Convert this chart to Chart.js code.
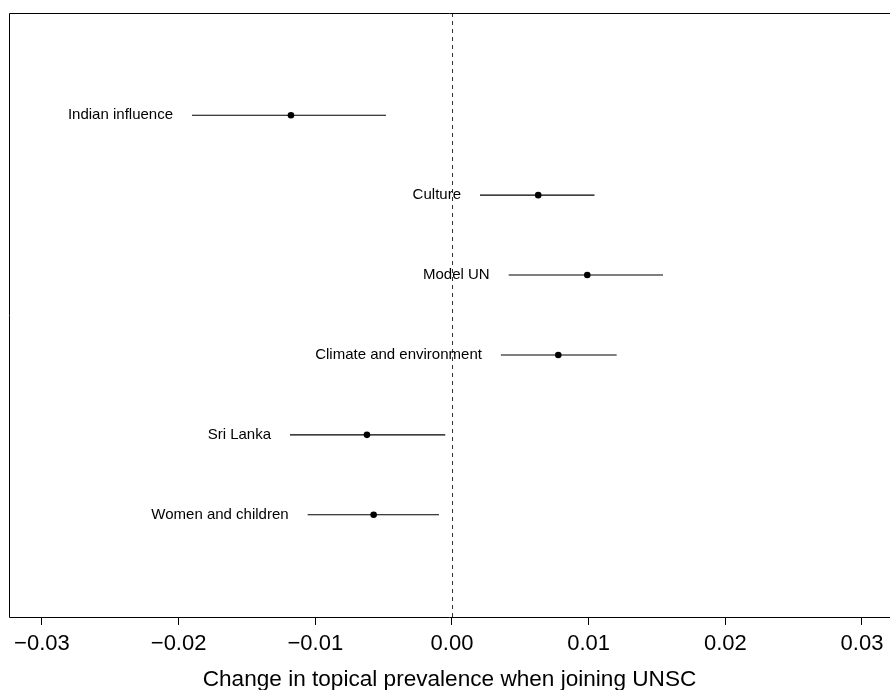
<!DOCTYPE html>
<html>
<head>
<meta charset="utf-8">
<script src="https://cdn.jsdelivr.net/npm/chart.js@4.4.1/dist/chart.umd.min.js"></script>
<style>
  html, body { margin: 0; padding: 0; background: #fff; }
  #wrap { width: 890px; height: 690px; }
</style>
</head>
<body>
<div id="wrap"><canvas id="c" width="890" height="690"></canvas></div>
<script>
// topics, top to bottom
const TOPICS = [
  "Indian influence",
  "Culture",
  "Model UN",
  "Climate and environment",
  "Sri Lanka",
  "Women and children",
];
const ROWS = [6, 5, 4, 3, 2, 1];
// point estimates and interval bounds
const ESTIMATES = [-0.01178, 0.00631, 0.00990, 0.00778, -0.00622, -0.00573];
const LOWER = [-0.01902, 0.00205, 0.00415, 0.00358, -0.01185, -0.01056];
const UPPER = [-0.00483, 0.01043, 0.01544, 0.01205, -0.00049, -0.00095];
const X_TICKS = [-0.03, -0.02, -0.01, 0.00, 0.01, 0.02, 0.03];

const FONT = "'Liberation Sans', Arial, Helvetica, sans-serif";

function fmt(v) {
  const s = Math.abs(v).toFixed(2);
  return v < -1e-9 ? "\u2212" + s : s;
}

// interval segments, broken by null gaps
const segs = [];
TOPICS.forEach(function (t, i) {
  segs.push({ x: LOWER[i], y: ROWS[i] });
  segs.push({ x: UPPER[i], y: ROWS[i] });
  segs.push({ x: null, y: null });
});
const pts = ESTIMATES.map(function (v, i) { return { x: v, y: ROWS[i] }; });

const extras = {
  id: "extras",
  beforeDatasetsDraw: function (chart) {
    const ctx = chart.ctx;
    const a = chart.chartArea;
    const xs = chart.scales.x;
    const x0 = Math.round(xs.getPixelForValue(0)) + 0.5;
    ctx.save();
    ctx.strokeStyle = "#333";
    ctx.lineWidth = 1;
    ctx.setLineDash([4, 4]);
    ctx.beginPath();
    ctx.moveTo(x0, a.top);
    ctx.lineTo(x0, a.bottom);
    ctx.stroke();
    ctx.restore();
  },
  afterDatasetsDraw: function (chart) {
    const ctx = chart.ctx;
    const a = chart.chartArea;
    const xs = chart.scales.x;
    const ys = chart.scales.y;
    ctx.save();
    ctx.fillStyle = "#000";
    ctx.font = "15px " + FONT;
    ctx.textAlign = "right";
    ctx.textBaseline = "middle";
    TOPICS.forEach(function (t, i) {
      ctx.fillText(t, xs.getPixelForValue(LOWER[i]) - 19, ys.getPixelForValue(ROWS[i]));
    });
    // box: the right side falls off the canvas in the reference
    const l = Math.round(a.left) + 0.5;
    const t = Math.round(a.top) + 0.5;
    const b = Math.round(a.bottom) + 0.5;
    ctx.strokeStyle = "#000";
    ctx.lineWidth = 1;
    ctx.beginPath();
    ctx.moveTo(chart.width, t);
    ctx.lineTo(l, t);
    ctx.lineTo(l, b);
    ctx.lineTo(chart.width, b);
    ctx.stroke();
    ctx.restore();
  },
};

new Chart(document.getElementById("c"), {
  type: "scatter",
  data: {
    datasets: [
      {
        data: segs,
        showLine: true,
        spanGaps: false,
        borderColor: "#000",
        borderWidth: 1.1,
        pointRadius: 0,
      },
      {
        data: pts,
        pointRadius: 3.3,
        pointBackgroundColor: "#000",
        pointBorderColor: "#000",
        pointBorderWidth: 0,
      },
    ],
  },
  options: {
    responsive: false,
    animation: false,
    layout: { autoPadding: false, padding: { left: 9, right: 0, top: 13, bottom: 0 } },
    plugins: { legend: { display: false }, tooltip: { enabled: false } },
    scales: {
      x: {
        type: "linear",
        min: -0.03241,
        max: 0.03205,
        afterBuildTicks: function (axis) {
          axis.ticks = X_TICKS.map(function (v) { return { value: v }; });
        },
        afterFit: function (axis) {
          axis.paddingLeft = 0;
          axis.paddingRight = 0;
        },
        ticks: {
          color: "#000",
          padding: 6,
          maxRotation: 0,
          font: { family: FONT, size: 22 },
          callback: function (v) { return fmt(v); },
        },
        grid: {
          drawOnChartArea: false,
          drawTicks: true,
          tickLength: 8,
          color: "#000",
        },
        border: { display: false },
        title: {
          display: true,
          text: "Change in topical prevalence when joining UNSC",
          color: "#000",
          font: { family: FONT, size: 22.6 },
          padding: { top: 2.5, bottom: -3 },
        },
      },
      y: {
        type: "linear",
        display: false,
        min: -0.28,
        max: 7.28,
      },
    },
  },
  plugins: [extras],
});
</script>
</body>
</html>
